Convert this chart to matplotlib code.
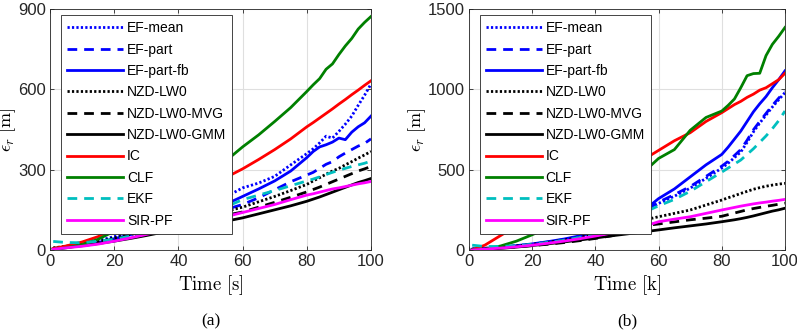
import numpy as np
import matplotlib
matplotlib.use("Agg")
import matplotlib.pyplot as plt

plt.rcParams['mathtext.fontset'] = 'cm'
plt.rcParams['font.family'] = ['Liberation Sans', 'DejaVu Sans']

# time samples
time_pts = [1, 5, 10, 15, 20, 25, 30, 35, 40, 45, 50, 55, 60, 65, 70, 75, 80,
            82, 84, 86, 88, 90, 92, 94, 96, 98, 100]

labels = ['EF-mean', 'EF-part', 'EF-part-fb', 'NZD-LW0', 'NZD-LW0-MVG',
          'NZD-LW0-GMM', 'IC', 'CLF', 'EKF', 'SIR-PF']

# panel (a): error vs time [s]
a_ef_mean = [5, 12, 22, 35, 50, 65, 82, 100, 120, 140, 165, 200, 232, 250, 275, 318, 360,
             378, 400, 425, 418, 443, 470, 500, 540, 578, 620]
a_ef_part = [3, 10, 18, 28, 40, 55, 70, 88, 105, 122, 138, 152, 170, 195, 225, 255, 280,
             290, 305, 320, 330, 348, 362, 375, 388, 398, 415]
a_ef_part_fb = [3, 10, 18, 28, 42, 57, 73, 90, 108, 126, 145, 172, 200, 228, 258, 295, 345,
                368, 385, 393, 403, 418, 412, 440, 460, 475, 500]
a_nzd = [8, 14, 22, 32, 45, 58, 70, 85, 100, 115, 130, 145, 160, 180, 200, 222, 245,
         258, 270, 283, 295, 305, 318, 330, 343, 355, 368]
a_nzd_mvg = [6, 12, 20, 29, 40, 52, 64, 77, 90, 103, 115, 130, 142, 160, 178, 197, 217,
             226, 235, 245, 255, 265, 275, 285, 295, 303, 312]
a_nzd_gmm = [4, 9, 16, 24, 33, 43, 54, 66, 77, 88, 98, 108, 120, 135, 150, 165, 182,
             190, 198, 207, 216, 225, 234, 243, 252, 259, 267]
a_ic = [5, 15, 30, 50, 80, 110, 140, 165, 190, 215, 240, 272, 303, 338, 375, 415, 460,
        476, 493, 510, 527, 545, 562, 580, 597, 615, 632]
a_clf = [2, 8, 20, 40, 70, 105, 140, 175, 210, 245, 285, 335, 385, 430, 480, 532, 592,
         617, 640, 675, 695, 730, 762, 790, 825, 850, 872]
a_ekf = [32, 28, 27, 33, 40, 52, 65, 80, 98, 118, 140, 162, 188, 205, 222, 240, 258,
         265, 273, 282, 290, 298, 305, 312, 318, 324, 332]
a_sir = [3, 8, 14, 22, 33, 45, 58, 72, 85, 98, 110, 125, 140, 155, 170, 188, 205,
         210, 216, 222, 228, 232, 237, 242, 247, 251, 256]

# panel (b): error vs time [k]
b_ef_mean = [5, 10, 17, 25, 35, 48, 62, 80, 100, 125, 160, 228, 290, 335, 385, 446, 510,
             540, 575, 610, 670, 735, 790, 840, 890, 935, 980]
b_ef_part = [5, 10, 17, 26, 36, 50, 65, 83, 104, 130, 165, 235, 298, 345, 395, 458, 522,
             552, 588, 625, 683, 748, 800, 850, 900, 945, 988]
b_ef_part_fb = [5, 10, 18, 27, 38, 52, 68, 88, 110, 140, 185, 240, 320, 380, 455, 530, 595,
                640, 690, 740, 800, 860, 910, 955, 1010, 1060, 1115]
b_nzd = [5, 10, 17, 25, 35, 48, 62, 78, 100, 125, 155, 185, 207, 228, 249, 280, 311,
         325, 338, 352, 365, 378, 388, 397, 404, 410, 415]
b_nzd_mvg = [4, 8, 13, 19, 27, 36, 46, 58, 72, 88, 108, 150, 162, 175, 188, 198, 210,
             220, 230, 240, 250, 258, 265, 272, 278, 285, 292]
b_nzd_gmm = [2, 4, 10, 18, 28, 38, 50, 62, 75, 88, 100, 112, 125, 138, 150, 162, 176,
             182, 188, 195, 203, 212, 222, 232, 242, 250, 260]
b_ic = [0, 30, 90, 150, 210, 265, 320, 375, 420, 470, 520, 560, 620, 680, 730, 800, 855,
        880, 905, 925, 950, 970, 995, 1010, 1035, 1060, 1100]
b_clf = [0, 5, 25, 55, 95, 140, 190, 245, 300, 365, 425, 480, 570, 625, 745, 825, 865,
         900, 940, 1010, 1085, 1098, 1100, 1210, 1280, 1330, 1385]
b_ekf = [30, 22, 22, 27, 35, 47, 60, 78, 98, 122, 155, 230, 275, 315, 365, 425, 485,
         510, 535, 560, 595, 630, 670, 710, 755, 805, 865]
b_sir = [0, 5, 12, 20, 30, 42, 55, 70, 87, 105, 125, 145, 176, 192, 207, 228, 249,
         257, 265, 273, 280, 287, 293, 298, 304, 309, 315]

panel_a = [a_ef_mean, a_ef_part, a_ef_part_fb, a_nzd, a_nzd_mvg, a_nzd_gmm, a_ic, a_clf, a_ekf, a_sir]
panel_b = [b_ef_mean, b_ef_part, b_ef_part_fb, b_nzd, b_nzd_mvg, b_nzd_gmm, b_ic, b_clf, b_ekf, b_sir]

dotted = (0, (0.8, 0.8))
dashed = (0, (3.5, 2.5))
styles = [('#0000ff', dotted), ('#0000ff', dashed), ('#0000ff', '-'),
          ('#000000', dotted), ('#000000', dashed), ('#000000', '-'),
          ('#ff0000', '-'), ('#008000', '-'), ('#00bfbf', dashed), ('#ff00ff', '-')]

W, H = 797, 331
fig = plt.figure(figsize=(W / 100, H / 100), dpi=100)
ax_a = fig.add_axes([50 / W, 81 / H, 321 / W, 241 / H])
ax_b = fig.add_axes([469 / W, 81 / H, 316 / W, 241 / H])

setups = [(ax_a, panel_a, [0, 300, 600, 900], 900, r'$\mathrm{Time\ [s]}$', '(a)'),
          (ax_b, panel_b, [0, 500, 1000, 1500], 1500, r'$\mathrm{Time\ [k]}$', '(b)')]

for ax, series, yt, ymax, xlab, tag in setups:
    for vals, (col, ls), lab in zip(series, styles, labels):
        ax.plot(time_pts, vals, color=col, linestyle=ls, lw=2.0, label=lab)
    ax.set_xlim(0, 100)
    ax.set_ylim(0, ymax)
    ax.set_xticks([0, 20, 40, 60, 80, 100])
    ax.set_yticks(yt)
    ax.grid(True, color='#dfdfdf', lw=0.8)
    ax.set_axisbelow(True)
    ax.tick_params(direction='in', length=3, width=0.6, top=True, right=True,
                   labelsize=12, colors='#262626', pad=3)
    for sp in ax.spines.values():
        sp.set_color('#262626')
        sp.set_linewidth(0.6)
    ax.set_xlabel(xlab, fontsize=13.5, labelpad=3)
    ax.set_ylabel(r'$\epsilon_r\ [\mathrm{m}]$', fontsize=13, labelpad=0)
    leg = ax.legend(loc='upper left', bbox_to_anchor=(0.034, 0.975), fontsize=10,
                    handlelength=4.0, handletextpad=0.3, labelspacing=0.53,
                    borderpad=0.45, borderaxespad=0, fancybox=False, framealpha=1)
    leg.get_frame().set_edgecolor('#262626')
    leg.get_frame().set_linewidth(0.6)
    pos = ax.get_position()
    fig.text((pos.x0 + pos.x1) / 2, 10 / H, tag, ha='center', va='center',
             fontsize=12.5, family='Liberation Serif')

fig.savefig('out.png', dpi=100)
